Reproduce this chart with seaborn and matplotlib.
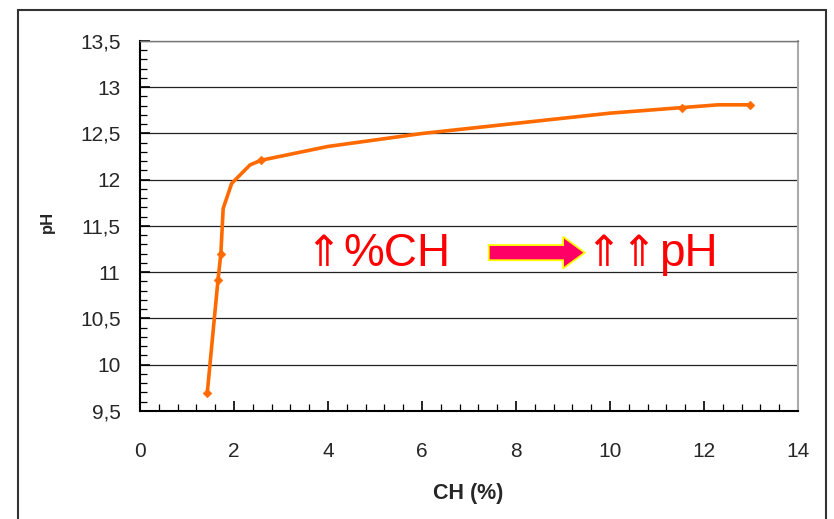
import numpy as np
import pandas as pd
import seaborn as sns
import matplotlib.pyplot as plt
from matplotlib.patches import Rectangle, FancyArrow
from matplotlib.ticker import MultipleLocator, FuncFormatter

# curve vertices (CH %, pH)
ch = [1.43, 1.66, 1.72, 1.77, 1.95, 2.34, 2.57, 4.0, 6.0, 8.0, 10.0, 11.53, 12.3, 12.98]
ph = [9.69, 10.92, 11.2, 11.69, 11.96, 12.16, 12.21, 12.36, 12.5, 12.61, 12.72, 12.78, 12.81, 12.81]
# points that carry a marker
ch_mark = [1.43, 1.66, 1.72, 2.57, 11.53, 12.98]
ph_mark = [9.69, 10.92, 11.2, 12.21, 12.78, 12.81]

curve = pd.DataFrame({'CH': ch, 'pH': ph})
marks = pd.DataFrame({'CH': ch_mark, 'pH': ph_mark})

sns.set_style('white')
plt.rcParams['font.family'] = ['Liberation Sans', 'DejaVu Sans']

fig = plt.figure(figsize=(8.34, 5.19), dpi=100)
ax = fig.add_axes([140 / 834, 1 - 411 / 519, 658 / 834, 370 / 519])

orange = '#FF6A00'
sns.lineplot(data=curve, x='CH', y='pH', sort=False, estimator=None,
             color=orange, linewidth=2.6, ax=ax, zorder=3)
sns.scatterplot(data=marks, x='CH', y='pH', marker='D', s=20,
                color=orange, edgecolor=orange, ax=ax, zorder=4)

ax.set_xlim(0, 14)
ax.set_ylim(9.5, 13.5)
ax.xaxis.set_major_locator(MultipleLocator(2))
ax.xaxis.set_minor_locator(MultipleLocator(0.4))
ax.yaxis.set_major_locator(MultipleLocator(0.5))
ax.yaxis.set_minor_locator(MultipleLocator(0.1))
ax.yaxis.set_major_formatter(FuncFormatter(lambda v, p: f'{v:g}'.replace('.', ',')))

ax.grid(axis='y', which='major', color='#222222', linewidth=0.9)
ax.grid(axis='x', visible=False)
ax.tick_params(which='both', direction='in', left=True, bottom=True, color='black')
ax.tick_params(which='major', length=7, width=1.2, labelsize=15)
ax.tick_params(which='minor', length=5, width=0.9)
ax.tick_params(axis='y', which='major', pad=14)
ax.tick_params(axis='x', which='major', pad=22)

for side in ['left', 'bottom']:
    ax.spines[side].set_color('black')
    ax.spines[side].set_linewidth(1.5)
ax.spines['top'].set_color('#777777')
ax.spines['top'].set_linewidth(1.0)
ax.spines['right'].set_color('#aaaaaa')
ax.spines['right'].set_linewidth(1.5)

ax.set_xlabel('CH (%)', fontsize=15.5, fontweight='bold')
ax.set_ylabel('pH', fontsize=12, fontweight='bold')
ax.xaxis.set_label_coords(0.499, -0.195)
ax.yaxis.set_label_coords(-0.129, 0.511)

# annotation text and arrow
red_font = dict(color='red', transform=ax.transAxes, va='baseline')
ax.text(0.278, 0.392, '⇑', fontsize=31, ha='center',
        family=['DejaVu Sans'], **red_font)
ax.text(0.786, 0.392, '⇑⇑', fontsize=31, ha='right',
        family=['DejaVu Sans'], **red_font)
ax.text(0.3085, 0.392, '%CH', fontsize=33, ha='left', **red_font)
ax.text(0.789, 0.392, 'pH', fontsize=33, ha='left', **red_font)
ax.add_patch(FancyArrow(0.530, 0.428, 0.146, 0, width=0.041, head_width=0.086,
                        head_length=0.033, length_includes_head=True,
                        transform=ax.transAxes, facecolor='#FF0066',
                        edgecolor='#FFFF00', linewidth=1.3, zorder=5))

# outer frame of the slide chart
fig.patches.append(Rectangle((18 / 834, -0.05), 808 / 834, 1.05 - 10 / 519,
                             transform=fig.transFigure, fill=False,
                             edgecolor='#333333', linewidth=1.5))

plt.savefig('out.png', dpi=100)
